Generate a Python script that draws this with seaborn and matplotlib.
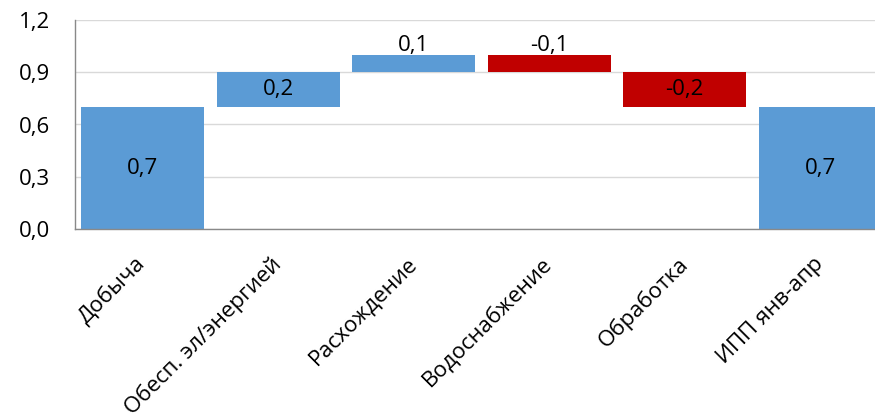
import matplotlib
matplotlib.use("Agg")
import matplotlib.pyplot as plt
import seaborn as sns
import numpy as np

categories = ["Добыча", "Обесп. эл/энергией", "Расхождение", "Водоснабжение", "Обработка", "ИПП янв-апр"]
values = [0.7, 0.2, 0.1, -0.1, -0.2, 0.7]
is_total = [True, False, False, False, False, True]
value_labels = ["0,7", "0,2", "0,1", "-0,1", "-0,2", "0,7"]
y_ticks = [0.0, 0.3, 0.6, 0.9, 1.2]
y_tick_labels = ["0,0", "0,3", "0,6", "0,9", "1,2"]

BLUE = "#5B9BD5"
RED = "#C00000"

# waterfall: bottoms from running total
bottoms, heights = [], []
running = 0.0
for v, tot in zip(values, is_total):
    if tot:
        bottoms.append(0.0)
        heights.append(v)
        running = v
    else:
        lo = min(running, running + v)
        bottoms.append(lo)
        heights.append(abs(v))
        running += v
colors = [BLUE if v >= 0 else RED for v in values]

sns.set_style("white")
plt.rcParams["font.family"] = ["Open Sans", "DejaVu Sans"]
plt.rcParams["text.color"] = "black"
plt.rcParams["xtick.color"] = "black"
plt.rcParams["ytick.color"] = "black"

fig = plt.figure(figsize=(8.75, 4.19), dpi=100)
ax = fig.add_axes([75 / 875, (419 - 229) / 419, 813 / 875, 209 / 419])

sns.barplot(x=categories, y=heights, hue=categories, palette=colors, legend=False,
            width=0.91, saturation=1, ax=ax, zorder=2)
for patch, b in zip(ax.patches, bottoms):
    patch.set_y(b)
    patch.set_edgecolor("none")

# value labels (thin bars get the label on top)
for i, (b, h, lab) in enumerate(zip(bottoms, heights, value_labels)):
    if h >= 0.15:
        ax.text(i, b + h / 2, lab, ha="center", va="center", fontsize=16, zorder=3)
    else:
        ax.text(i, b + h - 0.005, lab, ha="center", va="bottom", fontsize=16, zorder=3)

ax.set_xlim(-0.5, 5.5)
ax.set_ylim(0, 1.2)
ax.set_yticks(y_ticks)
ax.set_yticklabels(y_tick_labels, fontsize=16)
ax.yaxis.grid(True, color="#D9D9D9", linewidth=1, zorder=0)
ax.set_axisbelow(True)

ax.set_xticks(range(len(categories)))
ax.set_xticklabels(categories, rotation=45, ha="right", va="center",
                   rotation_mode="anchor", fontsize=16)
ax.set_xticks(np.arange(-0.5, 6, 1), minor=True)
ax.tick_params(axis="x", which="major", length=0, pad=23)
ax.tick_params(axis="x", which="minor", length=5, color="#898989", width=1)
ax.tick_params(axis="y", length=0, pad=18)

for side in ["top", "right"]:
    ax.spines[side].set_visible(False)
for side in ["left", "bottom"]:
    ax.spines[side].set_color("#898989")
    ax.spines[side].set_linewidth(1)
ax.set_xlabel("")
ax.set_ylabel("")

fig.savefig("out.png", dpi=100)
